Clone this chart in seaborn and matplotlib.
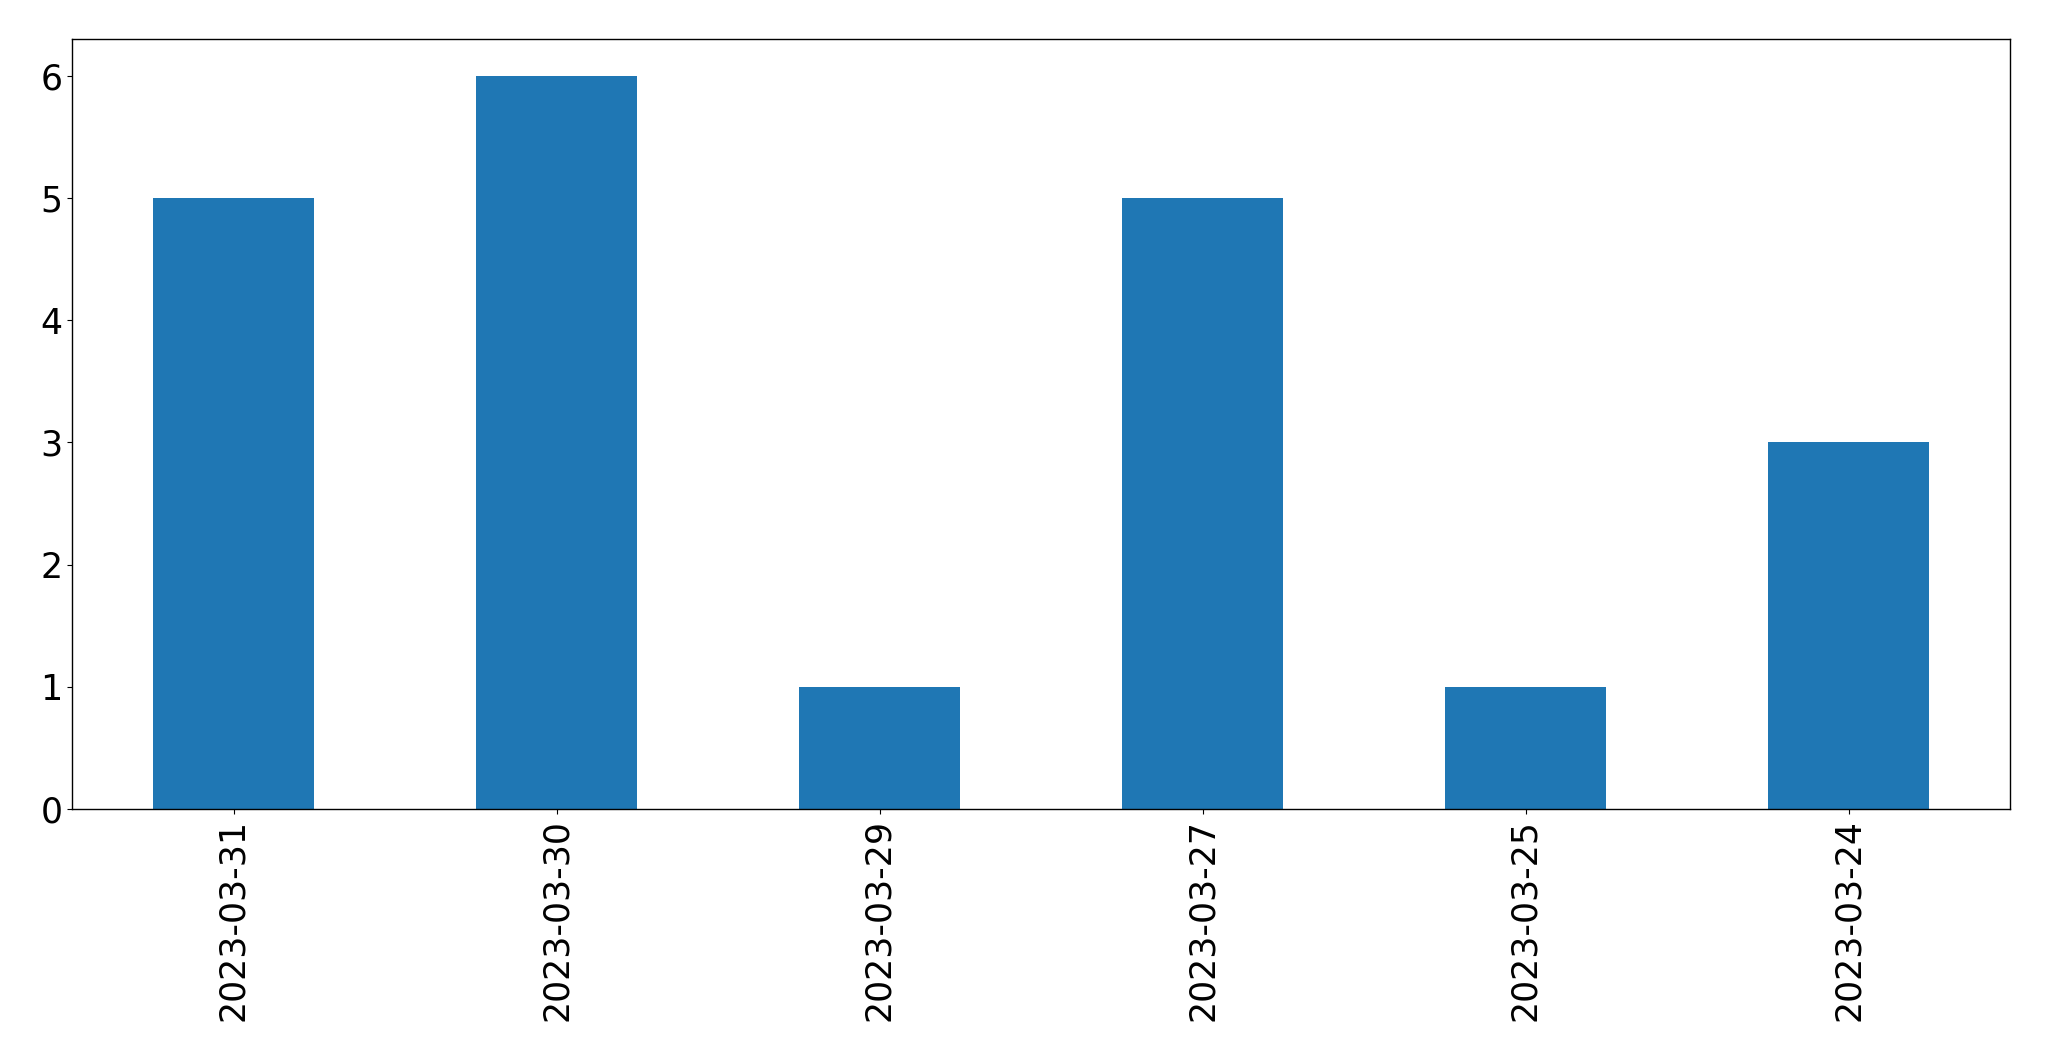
import matplotlib
matplotlib.use("Agg")
import matplotlib.pyplot as plt
import seaborn as sns

dates = ["2023-03-31", "2023-03-30", "2023-03-29", "2023-03-27", "2023-03-25", "2023-03-24"]
counts = [5, 6, 1, 5, 1, 3]

fig = plt.figure(figsize=(20.49, 10.61), dpi=100)
ax = fig.add_axes([72 / 2049, 1 - 809 / 1061, (2010 - 72) / 2049, (809 - 39) / 1061])
sns.barplot(x=dates, y=counts, ax=ax, color="#1f77b4", saturation=1, width=0.5)
ax.set_xlim(-0.5, len(dates) - 0.5)
ax.set_ylim(0, 6.3)
ax.set_xlabel("")
ax.set_ylabel("")
ax.tick_params(axis="both", labelsize=25)
plt.setp(ax.get_xticklabels(), rotation=90)
for s in ax.spines.values():
    s.set_linewidth(1.0)
fig.savefig("out.png", dpi=100)
